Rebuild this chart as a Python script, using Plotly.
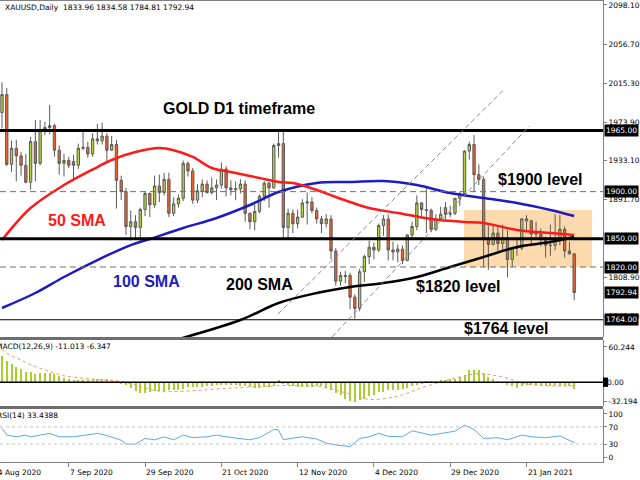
import pandas as pd
import plotly.graph_objects as go

# ---------------- data ----------------
dates = [d for d in pd.bdate_range("2020-08-18", "2021-02-04")
         if d.strftime("%m-%d") not in ("12-25", "01-01")]
bars = list(range(len(dates)))

opens = [1984, 2003, 1929, 1946, 1938, 1928, 1910, 1953, 1930, 1966,
         1968, 1970, 1944, 1930, 1933, 1932, 1928, 1946, 1947, 1940,
         1956, 1954, 1959, 1944, 1950, 1912, 1900, 1863, 1868, 1862,
         1881, 1898, 1886, 1906, 1899, 1913, 1877, 1887, 1893, 1930,
         1922, 1891, 1901, 1908, 1899, 1904, 1907, 1924, 1904, 1902,
         1903, 1908, 1877, 1868, 1879, 1895, 1909, 1904, 1949, 1951,
         1862, 1877, 1866, 1873, 1888, 1889, 1880, 1871, 1866, 1871,
         1837, 1805, 1811, 1811, 1788, 1776, 1815, 1831, 1841, 1838,
         1864, 1871, 1838, 1836, 1839, 1827, 1854, 1863, 1888, 1881,
         1880, 1860, 1871, 1883, 1876, 1877, 1893, 1898, 1943, 1950,
         1918, 1913, 1849, 1844, 1856, 1845, 1851, 1828, 1840, 1840,
         1871, 1869, 1857, 1855, 1850, 1843, 1843, 1848, 1860, 1837,
         1833.96]
highs = [2016, 2010, 1954, 1955, 1942, 1940, 1958, 1976, 1976, 1974,
         1992, 1972, 1949, 1940, 1937, 1939, 1951, 1966, 1953, 1962,
         1972, 1973, 1962, 1959, 1955, 1917, 1904, 1880, 1875, 1883,
         1900, 1899, 1917, 1918, 1920, 1920, 1894, 1897, 1933, 1932,
         1925, 1908, 1913, 1912, 1915, 1913, 1931, 1927, 1912, 1911,
         1913, 1912, 1878, 1886, 1897, 1911, 1910, 1951, 1965, 1966,
         1882, 1881, 1881, 1892, 1899, 1894, 1883, 1874, 1876, 1875,
         1840, 1815, 1816, 1814, 1791, 1818, 1833, 1848, 1846, 1866,
         1875, 1876, 1847, 1844, 1843, 1855, 1868, 1896, 1889, 1906,
         1882, 1876, 1884, 1889, 1885, 1893, 1900, 1944, 1953, 1960,
         1929, 1916, 1864, 1864, 1862, 1865, 1859, 1840, 1850, 1872,
         1875, 1870, 1868, 1861, 1852, 1865, 1876, 1875, 1863, 1847,
         1834.58]
lows = [1967, 1927, 1921, 1911, 1917, 1909, 1902, 1911, 1928, 1960,
        1961, 1937, 1918, 1916, 1925, 1911, 1924, 1944, 1936, 1937,
        1950, 1950, 1932, 1943, 1882, 1891, 1854, 1848, 1850, 1846,
        1874, 1873, 1883, 1889, 1896, 1873, 1874, 1883, 1890, 1916,
        1887, 1888, 1894, 1898, 1897, 1891, 1903, 1895, 1896, 1891,
        1898, 1868, 1860, 1859, 1877, 1890, 1883, 1903, 1936, 1850,
        1849, 1856, 1861, 1872, 1865, 1877, 1866, 1856, 1862, 1828,
        1800, 1800, 1803, 1775, 1765, 1773, 1804, 1823, 1828, 1836,
        1853, 1827, 1827, 1825, 1823, 1826, 1850, 1859, 1873, 1856,
        1857, 1858, 1869, 1870, 1873, 1875, 1885, 1895, 1934, 1900,
        1907, 1820, 1817, 1843, 1837, 1838, 1809, 1820, 1832, 1838,
        1857, 1842, 1851, 1842, 1830, 1832, 1838, 1843, 1830, 1833,
        1784.81]
closes = [2003, 1929, 1946, 1938, 1928, 1910, 1953, 1930, 1966, 1968,
          1970, 1944, 1930, 1933, 1928, 1928, 1946, 1947, 1940, 1956,
          1954, 1959, 1944, 1950, 1912, 1900, 1863, 1868, 1862, 1881,
          1898, 1886, 1906, 1899, 1913, 1877, 1887, 1893, 1930, 1922,
          1891, 1901, 1908, 1899, 1904, 1907, 1924, 1904, 1902, 1903,
          1908, 1877, 1868, 1879, 1895, 1909, 1904, 1949, 1951, 1862,
          1877, 1866, 1873, 1888, 1889, 1880, 1871, 1866, 1871, 1837,
          1805, 1811, 1810, 1788, 1776, 1815, 1831, 1841, 1838, 1864,
          1871, 1838, 1836, 1839, 1827, 1854, 1863, 1888, 1881, 1880,
          1860, 1871, 1876, 1876, 1877, 1893, 1898, 1943, 1950, 1918,
          1913, 1849, 1844, 1856, 1845, 1851, 1828, 1840, 1840, 1871,
          1869, 1855, 1855, 1850, 1843, 1843, 1848, 1860, 1837, 1834,
          1792.94]

# moving averages (bar number, price)
sma50_bar = [0, 6, 13, 20, 23, 28, 33, 36, 40, 44, 48, 54, 58, 61, 66, 70, 73, 77, 83, 90, 97, 101, 108, 115, 120]
sma50_val = [1848.6, 1882.6, 1907.0, 1926.1, 1933.6, 1942.0, 1946.3, 1944.0, 1936.8, 1925.1, 1920.8, 1914.4,
             1910.2, 1909.1, 1901.7, 1894.3, 1889.0, 1882.6, 1877.3, 1871.0, 1867.8, 1866.7, 1859.3, 1856.1, 1854.0]
sma100_bar = [0, 7, 13, 20, 27, 31, 38, 45, 52, 58, 66, 73, 80, 87, 94, 101, 108, 115, 120]
sma100_val = [1776.5, 1792.4, 1809.4, 1827.4, 1843.3, 1849.7, 1861.4, 1872.0, 1885.8, 1899.6, 1909.2, 1910.2,
              1911.3, 1907.0, 1898.5, 1893.2, 1887.9, 1880.5, 1874.1]
sma200_bar = [36, 50, 58, 66, 73, 80, 87, 94, 101, 108, 115, 120]
sma200_val = [1742.0, 1763.7, 1781.8, 1792.4, 1798.8, 1803.0, 1809.4, 1820.0, 1830.6, 1841.2, 1846.5, 1851.8]

macd_hist = [44.6, 36.8, 30.6, 26.6, 22, 18, 17, 13.6, 15.3, 15.3,
             16.4, 13.6, 10.8, 6.8, 5.1, 4, 4, 4, 4, 4,
             5, 5, 5, 4.5, 2, -2, -4.5, -10, -14.7, -17.6,
             -17.6, -16.4, -14.7, -14.7, -14.7, -13, -12.5, -12.5, -11, -9,
             -9, -8.5, -7.4, -6.2, -6.2, -4.5, -4.5, -4.5, -4.5, -4.5,
             -5.7, -5.7, -7.4, -9.6, -9.6, -7.4, -7.4, -5.7, 4, -1.7,
             -5, -5.7, -7.4, -8.5, -7.4, -9, -6, -6.8, -9.6, -14,
             -19, -22.7, -28, -32, -34, -31, -28, -24, -21.5, -17,
             -16, -14, -13.6, -12.5, -11, -9.6, -6.8, -4, -2.3, 1,
             1, 2.3, 3.4, 4.5, 5.7, 6.2, 8.5, 13, 20.4, 21.5,
             21.5, 15.9, 9, 5.7, 1, -1, -4, -6.8, -9.6, -6.8,
             -5, -5, -5, -5.7, -6.8, -6.8, -5.7, -5.7, -6.8, -6.8,
             -11.013]
signal_bar = [0, 2, 4, 6, 10, 13, 17, 20, 24, 27, 30, 33, 36, 41, 48, 55, 62, 66, 72, 77, 83, 88, 92, 96, 100, 105, 109, 113, 120]
signal_val = [56, 45, 38, 30, 18.4, 11, 7, 4.2, 2.5, -2.5, -10, -15.6, -16, -14, -10, -7, -5.4, -6.8, -18, -29.4,
              -23.8, -9.6, 0, 9, 14.2, 9, -1.1, -5.7, -6.347]

rsi_bar = [0, 1, 3, 5, 6, 10, 12, 15, 17, 20, 22, 25, 26, 28, 30, 32, 34, 36, 38, 40, 43, 45, 47, 52, 54, 55,
           57, 58, 59, 61, 63, 66, 68, 70, 73, 75, 77, 79, 81, 84, 86, 90, 93, 95, 97, 99, 101, 104, 106, 109,
           111, 114, 117, 120]
rsi_val = [67, 51, 47, 51, 47, 55, 47, 47, 50, 55, 50, 39, 30, 30, 43, 40, 47, 40, 51, 45, 47, 51, 47, 40, 45, 51,
           64, 63, 40, 44, 47, 42, 32, 28, 24, 43, 47, 55, 48, 47, 61, 51, 57, 60, 74, 64, 43, 45, 40, 51,
           47, 45, 49, 33.4388]

price_ticks = [2098.10, 2056.70, 2015.30, 1973.90, 1933.10, 1891.70, 1808.90, 1767.50]
macd_ticks = [60.244, -32.194]
rsi_ticks = [100, 70, 30, 0]
levels_solid = [1965.00, 1850.00]
levels_thin = [1764.00]
levels_dashed = [1900.00, 1820.00]
date_tick_bar = [-2, 14, 30, 46, 62, 78, 94, 110]
date_tick_text = ["14 Aug 2020", "7 Sep 2020", "29 Sep 2020", "21 Oct 2020",
                  "12 Nov 2020", "4 Dec 2020", "29 Dec 2020", "21 Jan 2021"]
zone = dict(bar0=96.9, bar1=123.75, low=1820.0, high=1880.5)
channel_upper = dict(bar0=57.9, p0=1770.1, bar1=105.2, p1=2007.9)
channel_lower = dict(bar0=69.2, p0=1745.7, bar1=110.6, p1=1969.7)

# ---------------- geometry helpers (pixels -> paper) ----------------
PW, PH = 607, 462
X_RANGE = [-0.4167, 126.04]
def pxx(x): return x / PW
def pxy(y): return (PH - y) / PH
def bar_to_paper(b): return (b - X_RANGE[0]) / (X_RANGE[1] - X_RANGE[0])

FONT = "DejaVu Sans"
FS = 7.5
GREEN = "#b3d33a"
RED = "#f2612a"
OUTL = "#5a5a5a"

fig = go.Figure()

fig.add_trace(go.Candlestick(
    x=bars, open=opens, high=highs, low=lows, close=closes,
    increasing=dict(fillcolor=GREEN, line=dict(color=OUTL, width=1)),
    decreasing=dict(fillcolor=RED, line=dict(color=OUTL, width=1)),
    whiskerwidth=0, hoverinfo="skip", xaxis="x", yaxis="y"))

fig.add_trace(go.Scatter(x=sma200_bar, y=sma200_val, mode="lines",
                         line=dict(color="black", width=2.5, shape="spline"), yaxis="y"))
fig.add_trace(go.Scatter(x=sma100_bar, y=sma100_val, mode="lines",
                         line=dict(color="#1c1cc0", width=2.5, shape="spline"), yaxis="y"))
fig.add_trace(go.Scatter(x=sma50_bar, y=sma50_val, mode="lines",
                         line=dict(color="#ff1a1a", width=2.5, shape="spline"), yaxis="y"))

fig.add_trace(go.Bar(x=bars, y=macd_hist, width=0.42,
                     marker=dict(color="#a9cf2f", line=dict(width=0)), yaxis="y2"))
fig.add_trace(go.Scatter(x=signal_bar, y=signal_val, mode="lines",
                         line=dict(color="#f4946a", width=1, dash="dot", shape="spline"), yaxis="y2"))

fig.add_trace(go.Scatter(x=rsi_bar, y=rsi_val, mode="lines",
                         line=dict(color="#5aa8f0", width=1), yaxis="y3"))

shapes = []
shapes.append(dict(type="rect", xref="x", yref="y", x0=zone["bar0"], x1=zone["bar1"],
                   y0=zone["low"], y1=zone["high"], fillcolor="#fcdaae",
                   line=dict(width=0), layer="below"))
for lv in levels_dashed:
    shapes.append(dict(type="line", xref="paper", yref="y", x0=0, x1=1, y0=lv, y1=lv,
                       line=dict(color="#6e6e6e", width=1, dash="6px,4px")))
for lv in levels_solid:
    shapes.append(dict(type="line", xref="paper", yref="y", x0=0, x1=1, y0=lv, y1=lv,
                       line=dict(color="black", width=3)))
for lv in levels_thin:
    shapes.append(dict(type="line", xref="paper", yref="y", x0=0, x1=1, y0=lv, y1=lv,
                       line=dict(color="black", width=1)))
for ch in (channel_upper, channel_lower):
    shapes.append(dict(type="line", xref="x", yref="y", x0=ch["bar0"], x1=ch["bar1"],
                       y0=ch["p0"], y1=ch["p1"],
                       line=dict(color="#8a8a8a", width=1, dash="5px,3px")))
shapes.append(dict(type="line", xref="paper", yref="y2", x0=0, x1=1, y0=0, y1=0,
                   line=dict(color="black", width=1.5)))
# small black marker box of the zero level on the MACD scale
shapes.append(dict(type="rect", xref="paper", yref="y2", x0=1.0, x1=1 + 5 / PW, y0=-8, y1=8,
                   fillcolor="black", line=dict(width=0)))
for lv in (70, 30):
    shapes.append(dict(type="line", xref="paper", yref="y3", x0=0, x1=1, y0=lv, y1=lv,
                       line=dict(color="#c4c4c4", width=1, dash="dot")))
# pane separators / frame
for yy in (338.5, 407.5):
    shapes.append(dict(type="line", xref="paper", yref="paper", x0=0, x1=1,
                       y0=pxy(yy), y1=pxy(yy), line=dict(color="#6e6e6e", width=3)))
shapes.append(dict(type="line", xref="paper", yref="paper", x0=0, x1=1,
                   y0=pxy(0.5), y1=pxy(0.5), line=dict(color="#808080", width=1)))

ann = []
def txt(x, y, s, size=FS, color="black", family=FONT, weight="normal", xanchor="left"):
    ann.append(dict(x=pxx(x), y=pxy(y), xref="paper", yref="paper", text=s, showarrow=False,
                    xanchor=xanchor, yanchor="middle",
                    font=dict(family=family, size=size, color=color, weight=weight)))

txt(3, 8, f"XAUUSD,Daily  {opens[-1]:.2f} {highs[-1]:.2f} {lows[-1]:.2f} {closes[-1]:.2f}")
txt(-6.5, 347, f"MACD(12,26,9) {macd_hist[-1]:.3f} {signal_val[-1]:.3f}")
txt(-5.5, 415, f"RSI(14) {rsi_val[-1]:.4f}")

BOLD = "Liberation Sans"
txt(241, 109, "GOLD D1 timeframe", 16, "black", BOLD, "bold", "center")
txt(544, 179, "$1900 level", 16, "black", BOLD, "bold", "center")
txt(462, 286, "$1820 level", 16, "black", BOLD, "bold", "center")
txt(510, 328, "$1764 level", 16, "black", BOLD, "bold", "center")
txt(78, 221, "50 SMA", 16, "#ff1a1a", BOLD, "bold", "center")
txt(147, 281, "100 SMA", 16, "#1c1cc0", BOLD, "bold", "center")
txt(261, 284, "200 SMA", 16, "black", BOLD, "bold", "center")

# boxed price labels on the right scale
for lv in levels_solid + levels_dashed + levels_thin + [closes[-1]]:
    ann.append(dict(x=1, y=lv, xref="paper", yref="y", text=f"{lv:.2f}", showarrow=False,
                    xanchor="left", yanchor="middle", xshift=1, bgcolor="black", borderpad=1,
                    font=dict(family=FONT, size=FS, color="white")))
ann.append(dict(x=1, y=0, xref="paper", yref="y2", text="0.00", showarrow=False,
                xanchor="left", yanchor="middle", xshift=2,
                font=dict(family=FONT, size=FS, color="black")))

for b, t in zip(date_tick_bar, date_tick_text):
    ann.append(dict(x=bar_to_paper(b), y=pxy(472), xref="paper", yref="paper", text=t,
                    showarrow=False, xanchor="left", yanchor="middle", xshift=-1,
                    font=dict(family=FONT, size=FS, color="black")))

axis_common = dict(side="right", showgrid=False, zeroline=False, showline=True,
                   linecolor="#808080", linewidth=1, ticks="outside", ticklen=3,
                   tickcolor="#808080", tickfont=dict(family=FONT, size=FS, color="black"),
                   anchor="x", fixedrange=True)

fig.update_layout(
    width=640, height=480,
    margin=dict(l=0, r=33, t=0, b=18),
    paper_bgcolor="white", plot_bgcolor="white",
    showlegend=False, hovermode=False, bargap=0,
    font=dict(family=FONT, size=FS),
    xaxis=dict(range=X_RANGE, domain=[0, 1], anchor="y3",
               rangeslider=dict(visible=False), showgrid=False, zeroline=False,
               showline=True, linecolor="#808080", ticks="outside", ticklen=4,
               tickcolor="#808080", tickvals=date_tick_bar, showticklabels=False),
    yaxis=dict(domain=[pxy(337), 1], range=[1745.7, 2103.4],
               tickvals=price_ticks, ticktext=[f"{v:.2f}" for v in price_ticks], **axis_common),
    yaxis2=dict(domain=[pxy(406), pxy(340)], range=[-40.7, 72.2],
                tickvals=macd_ticks, ticktext=[f"{v:.3f}" for v in macd_ticks], **axis_common),
    yaxis3=dict(domain=[0, pxy(409)], range=[-11.6, 111.6],
                tickvals=rsi_ticks, ticktext=[str(v) for v in rsi_ticks], **axis_common),
    shapes=shapes, annotations=ann,
)

fig.write_html("out.html", config={"displayModeBar": False},
               post_script="document.body.style.margin='0';document.body.style.overflow='hidden';")
